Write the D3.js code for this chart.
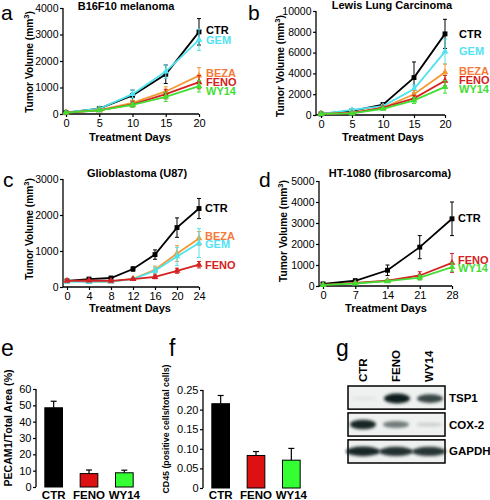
<!DOCTYPE html>
<html><head><meta charset="utf-8">
<script src="https://cdn.jsdelivr.net/npm/d3@7"></script>
<style>body{margin:0;background:#fff} svg{display:block} text{font-family:"Liberation Sans",Arial,sans-serif}</style>
</head><body><svg id="c" width="490" height="500"></svg>
<script>
// ---------- DATA ----------
const seriesNames = ["CTR","GEM","BEZA","FENO","WY14"];
const lineColors = {CTR:"#000000",GEM:"#4fe3ef",BEZA:"#f39a35",FENO:"#d42222",WY14:"#44dd33"};
const labelColors = {CTR:"#000000",GEM:"#52e3f2",BEZA:"#f47a3a",FENO:"#d42222",WY14:"#44dd33"};

// Panel a: B16F10 melanoma
const daysA = [0,5,10,15,20];
const aCTR = [50,200,700,1500,3100],  aCTRerr = [30,60,200,350,500];
const aGEM = [60,200,750,1600,2800],  aGEMerr = [30,60,150,250,400];
const aBEZA = [50,150,420,850,1450],  aBEZAerr = [20,40,100,180,300];
const aFENO = [50,140,360,750,1200],  aFENOerr = [20,40,100,180,250];
const aWY14 = [50,140,340,650,1050],  aWY14err = [20,40,80,180,220];

// Panel b: Lewis Lung Carcinoma
const daysB = [0,5,10,15,20];
const bCTR = [100,400,1000,3600,7800], bCTRerr = [50,100,150,1500,1400];
const bGEM = [100,500,850,2500,6100],  bGEMerr = [50,100,150,400,1200];
const bBEZA = [100,200,700,2000,4100], bBEZAerr = [50,60,120,350,800];
const bFENO = [100,180,700,1600,3300], bFENOerr = [50,60,100,300,500];
const bWY14 = [100,150,600,1400,2700], bWY14err = [50,50,100,300,600];

// Panel c: Glioblastoma (U87)
const daysC = [0,4,8,12,16,20,24];
const cCTR = [170,220,250,500,900,1650,2180], cCTRerr = [30,40,40,60,130,270,280];
const cBEZA = [170,150,150,230,480,930,1350], cBEZAerr = [20,30,30,40,100,220,190];
const cGEM = [150,140,150,220,450,850,1220],  cGEMerr = [20,30,30,40,100,250,400];
const cFENO = [170,180,170,220,280,450,620],  cFENOerr = [20,30,30,30,50,70,90];

// Panel d: HT-1080 (fibrosarcoma)
const daysD = [0,7,14,21,28];
const dCTR = [100,250,750,1850,3200], dCTRerr = [50,80,250,550,800];
const dFENO = [50,150,250,500,1100],  dFENOerr = [30,50,60,180,450];
const dWY14 = [50,120,230,400,900],   dWY14err = [30,40,60,120,200];

// Panel e / f bars
const barCats = ["CTR","FENO","WY14"];
const barColors = ["#000000","#dd1111","#33ff33"];
const eValues = [48.5, 8.2, 8.7], eErr = [4, 2.2, 1.6];
const fValues = [0.215, 0.083, 0.071], fErr = [0.021, 0.010, 0.030];

// Panel g blot
const blotLanes = ["CTR","FENO","WY14"];
const blotProteins = ["TSP1","COX-2","GAPDH"];
const blotIntensity = [[0.06,1.0,0.8],[0.95,0.55,0.15],[0.95,0.9,0.88]];

// ---------- DRAW ----------
const svg = d3.select("#c");
const FONT = '"Liberation Sans",Arial,sans-serif';

function txt(x,y,s,opt={}){
  const t = svg.append("text").attr("x",x).attr("y",y).text(s)
    .attr("font-size",opt.size||11).attr("font-weight",opt.bold?"bold":"normal")
    .attr("text-anchor",opt.anchor||"start").attr("fill",opt.fill||"#000");
  if(opt.rot) t.attr("transform",`rotate(-90,${x},${y})`);
  return t;
}

function lineChart(cfg){
  const x = d3.scaleLinear().domain(cfg.xDomain).range(cfg.xRange);
  const y = d3.scaleLinear().domain(cfg.yDomain).range(cfg.yRange);
  const g = svg.append("g");
  const ax = cfg.axisX;
  g.append("g").attr("transform",`translate(${ax},0)`)
    .call(d3.axisLeft(y).tickValues(cfg.yTicks).tickSize(3).tickPadding(1.5).tickFormat(d3.format("d")))
    .call(s=>{s.select(".domain").attr("stroke","#000").attr("stroke-width",1.3).attr("d",`M-0,${y(cfg.yDomain[1])}V${y(0)}`);
      s.selectAll("text").attr("font-size",10.5).attr("font-family",FONT).attr("fill","#000");
      s.selectAll("line").attr("stroke-width",1.2);});
  g.append("g").attr("transform",`translate(0,${y(0)})`)
    .call(d3.axisBottom(x).tickValues(cfg.xTicks).tickSize(3).tickPadding(2))
    .call(s=>{s.select(".domain").attr("stroke","#000").attr("stroke-width",1.3).attr("d",`M${ax},0H${x(cfg.xDomain[1])}`);
      s.selectAll("text").attr("font-size",11).attr("font-family",FONT).attr("fill","#000");
      s.selectAll("line").attr("stroke-width",1.2);});
  const line = d3.line().x(d=>x(d[0])).y(d=>y(d[1]));
  cfg.series.forEach(s=>{
    const pts = cfg.days.map((d,i)=>[d,s.v[i],s.e[i]]);
    const col = lineColors[s.name];
    pts.forEach(p=>{
      const eg = g.append("g").attr("stroke",col).attr("stroke-width",1);
      eg.append("line").attr("x1",x(p[0])).attr("x2",x(p[0])).attr("y1",y(p[1]-p[2])).attr("y2",y(p[1]+p[2]));
      eg.append("line").attr("x1",x(p[0])-2).attr("x2",x(p[0])+2).attr("y1",y(p[1]+p[2])).attr("y2",y(p[1]+p[2]));
      eg.append("line").attr("x1",x(p[0])-2).attr("x2",x(p[0])+2).attr("y1",y(p[1]-p[2])).attr("y2",y(p[1]-p[2]));
    });
    g.append("path").datum(pts).attr("d",line).attr("fill","none").attr("stroke",col).attr("stroke-width",1.8);
    pts.forEach(p=>{
      const sym = s.name==="CTR"?d3.symbolSquare:d3.symbolTriangle;
      g.append("path").attr("d",d3.symbol().type(sym).size(s.name==="CTR"?24:20)())
        .attr("transform",`translate(${x(p[0])},${y(p[1])})`).attr("fill",col);
    });
  });
  cfg.series.forEach(s=>{
    txt(cfg.labelX, s.ly, s.name, {bold:true,size:11,fill:labelColors[s.name]}).attr("dominant-baseline","central");
  });
  txt(cfg.titleX, cfg.titleY, cfg.title, {bold:true,size:11,anchor:"middle"});
  txt(cfg.xlabX, cfg.xlabY, "Treatment Days", {bold:true,size:11,anchor:"middle"});
  const yl = txt(cfg.ylabX, cfg.ylabY, "Tumor Volume (mm", {bold:true,size:10.2,anchor:"middle",rot:true});
  yl.append("tspan").text("3").attr("font-size",7.5).attr("dy",-4.5);
  yl.append("tspan").text(")").attr("font-size",10.2).attr("dy",4.5);
  txt(cfg.letterX, cfg.letterY, cfg.letter, {size:21});
}

lineChart({letter:"a",letterX:1,letterY:19.5,title:"B16F10 melanoma",titleX:126,titleY:10,
  xDomain:[0,20],xRange:[66,199],yDomain:[0,4000],yRange:[114,8],axisX:63,
  xTicks:daysA,yTicks:[0,1000,2000,3000,4000],days:daysA,labelX:206,
  xlabX:130,xlabY:141,ylabX:33,ylabY:62,
  series:[{name:"CTR",v:aCTR,e:aCTRerr,ly:30},{name:"GEM",v:aGEM,e:aGEMerr,ly:40},
    {name:"BEZA",v:aBEZA,e:aBEZAerr,ly:73},{name:"FENO",v:aFENO,e:aFENOerr,ly:82},{name:"WY14",v:aWY14,e:aWY14err,ly:91}]});

lineChart({letter:"b",letterX:248,letterY:19.5,title:"Lewis Lung Carcinoma",titleX:392,titleY:9,
  xDomain:[0,20],xRange:[321,445],yDomain:[0,10000],yRange:[115,11],axisX:316,
  xTicks:daysB,yTicks:[0,2000,4000,6000,8000,10000],days:daysB,labelX:459,
  xlabX:383,xlabY:141,ylabX:284,ylabY:66,
  series:[{name:"CTR",v:bCTR,e:bCTRerr,ly:34},{name:"GEM",v:bGEM,e:bGEMerr,ly:51},
    {name:"BEZA",v:bBEZA,e:bBEZAerr,ly:71},{name:"FENO",v:bFENO,e:bFENOerr,ly:80},{name:"WY14",v:bWY14,e:bWY14err,ly:89}]});

lineChart({letter:"c",letterX:3,letterY:187,title:"Glioblastoma (U87)",titleX:137,titleY:177,
  xDomain:[0,24],xRange:[67,199],yDomain:[0,3000],yRange:[287,179],axisX:63,
  xTicks:daysC,yTicks:[0,1000,2000,3000],days:daysC,labelX:205,
  xlabX:130,xlabY:312,ylabX:33,ylabY:229,
  series:[{name:"CTR",v:cCTR,e:cCTRerr,ly:208},{name:"BEZA",v:cBEZA,e:cBEZAerr,ly:236},
    {name:"GEM",v:cGEM,e:cGEMerr,ly:244},{name:"FENO",v:cFENO,e:cFENOerr,ly:265}]});

lineChart({letter:"d",letterX:259,letterY:187,title:"HT-1080 (fibrosarcoma)",titleX:390,titleY:177,
  xDomain:[0,28],xRange:[323,452],yDomain:[0,5000],yRange:[286,181],axisX:319,
  xTicks:daysD,yTicks:[0,1000,2000,3000,4000,5000],days:daysD,labelX:458,
  xlabX:386,xlabY:312,ylabX:287,ylabY:231,
  series:[{name:"CTR",v:dCTR,e:dCTRerr,ly:218},{name:"FENO",v:dFENO,e:dFENOerr,ly:260},{name:"WY14",v:dWY14,e:dWY14err,ly:268}]});

function barChart(cfg){
  const x = d3.scaleBand().domain(barCats).range(cfg.xRange).paddingInner(0.5).paddingOuter(0.25);
  const y = d3.scaleLinear().domain(cfg.yDomain).range(cfg.yRange);
  const g = svg.append("g");
  g.append("g").attr("transform",`translate(${cfg.axisX},0)`)
    .call(d3.axisLeft(y).tickValues(cfg.yTicks).tickSize(3).tickPadding(1.5).tickFormat(cfg.fmt))
    .call(s=>{s.select(".domain").attr("stroke-width",1.3).attr("d",`M0,${y(cfg.yDomain[1])}V${y(0)}`);
      s.selectAll("text").attr("font-size",11).attr("font-family",FONT);
      s.selectAll("line").attr("stroke-width",1.2);});
  barCats.forEach((c,i)=>{
    const bx = x(c), bw = x.bandwidth(), cx = bx+bw/2;
    const top = y(cfg.values[i]+cfg.err[i]);
    g.append("line").attr("x1",cx).attr("x2",cx).attr("y1",y(cfg.values[i])).attr("y2",top).attr("stroke","#000").attr("stroke-width",1.2);
    g.append("line").attr("x1",cx-3).attr("x2",cx+3).attr("y1",top).attr("y2",top).attr("stroke","#000").attr("stroke-width",1.2);
    g.append("rect").attr("x",bx).attr("width",bw).attr("y",y(cfg.values[i])).attr("height",y(0)-y(cfg.values[i]))
      .attr("fill",barColors[i]).attr("stroke","#000").attr("stroke-width",1);
    txt(cx, cfg.catY, c, {bold:true,size:11.5,anchor:"middle"});
  });
  txt(cfg.ylabX, cfg.ylabY, cfg.ylab, {bold:true,size:cfg.ylabSize,anchor:"middle",rot:true});
  txt(cfg.letterX, cfg.letterY, cfg.letter, {size:23});
}

barChart({letter:"e",letterX:1,letterY:356,xRange:[36,142],yDomain:[0,60],yRange:[487,389],axisX:36,
  yTicks:[0,10,20,30,40,50,60],fmt:d3.format("d"),values:eValues,err:eErr,catY:499,
  ylab:"PECAM1/Total Area (%)",ylabX:12,ylabY:428,ylabSize:10.6});
barChart({letter:"f",letterX:169,letterY:356,xRange:[203,309],yDomain:[0,0.25],yRange:[488,390],axisX:203,
  yTicks:[0,0.05,0.10,0.15,0.20,0.25],fmt:d=>d===0?"0":d3.format(".2f")(d),values:fValues,err:fErr,catY:499,
  ylab:"CD45 (positive cells/total cells)",ylabX:169,ylabY:429,ylabSize:8.8});

// blot
const defs = svg.append("defs");
defs.append("filter").attr("id","blur").attr("x","-50%").attr("y","-100%").attr("width","200%").attr("height","300%")
  .append("feGaussianBlur").attr("stdDeviation",1.6);
const laneX = d3.scalePoint().domain(blotLanes).range([363,429]);
const rowY = d3.scaleBand().domain(blotProteins).range([386,463]).paddingInner(0.14);
txt(336,356,"g",{size:23});
blotLanes.forEach(l=>txt(laneX(l)+4,382,l,{bold:true,size:11.5,rot:true}));
blotProteins.forEach((p,r)=>{
  const y0 = rowY(p), h = rowY.bandwidth();
  svg.append("rect").attr("x",348).attr("y",y0).attr("width",97).attr("height",h).attr("fill","#eef1f0").attr("stroke","#000").attr("stroke-width",1.5);
  blotLanes.forEach((l,i)=>{
    const v = blotIntensity[r][i];
    svg.append("ellipse").attr("cx",laneX(l)+ (r===0?1:0)).attr("cy",y0+h/2+(r===0?1:0))
      .attr("rx",p==="GAPDH"?17:13).attr("ry",1.5+3.5*v).attr("fill","#0d1a1a").attr("opacity",v)
      .attr("filter","url(#blur)");
  });
  txt(449,y0+h/2+4,p,{bold:true,size:11.5});
});
</script></body></html>
